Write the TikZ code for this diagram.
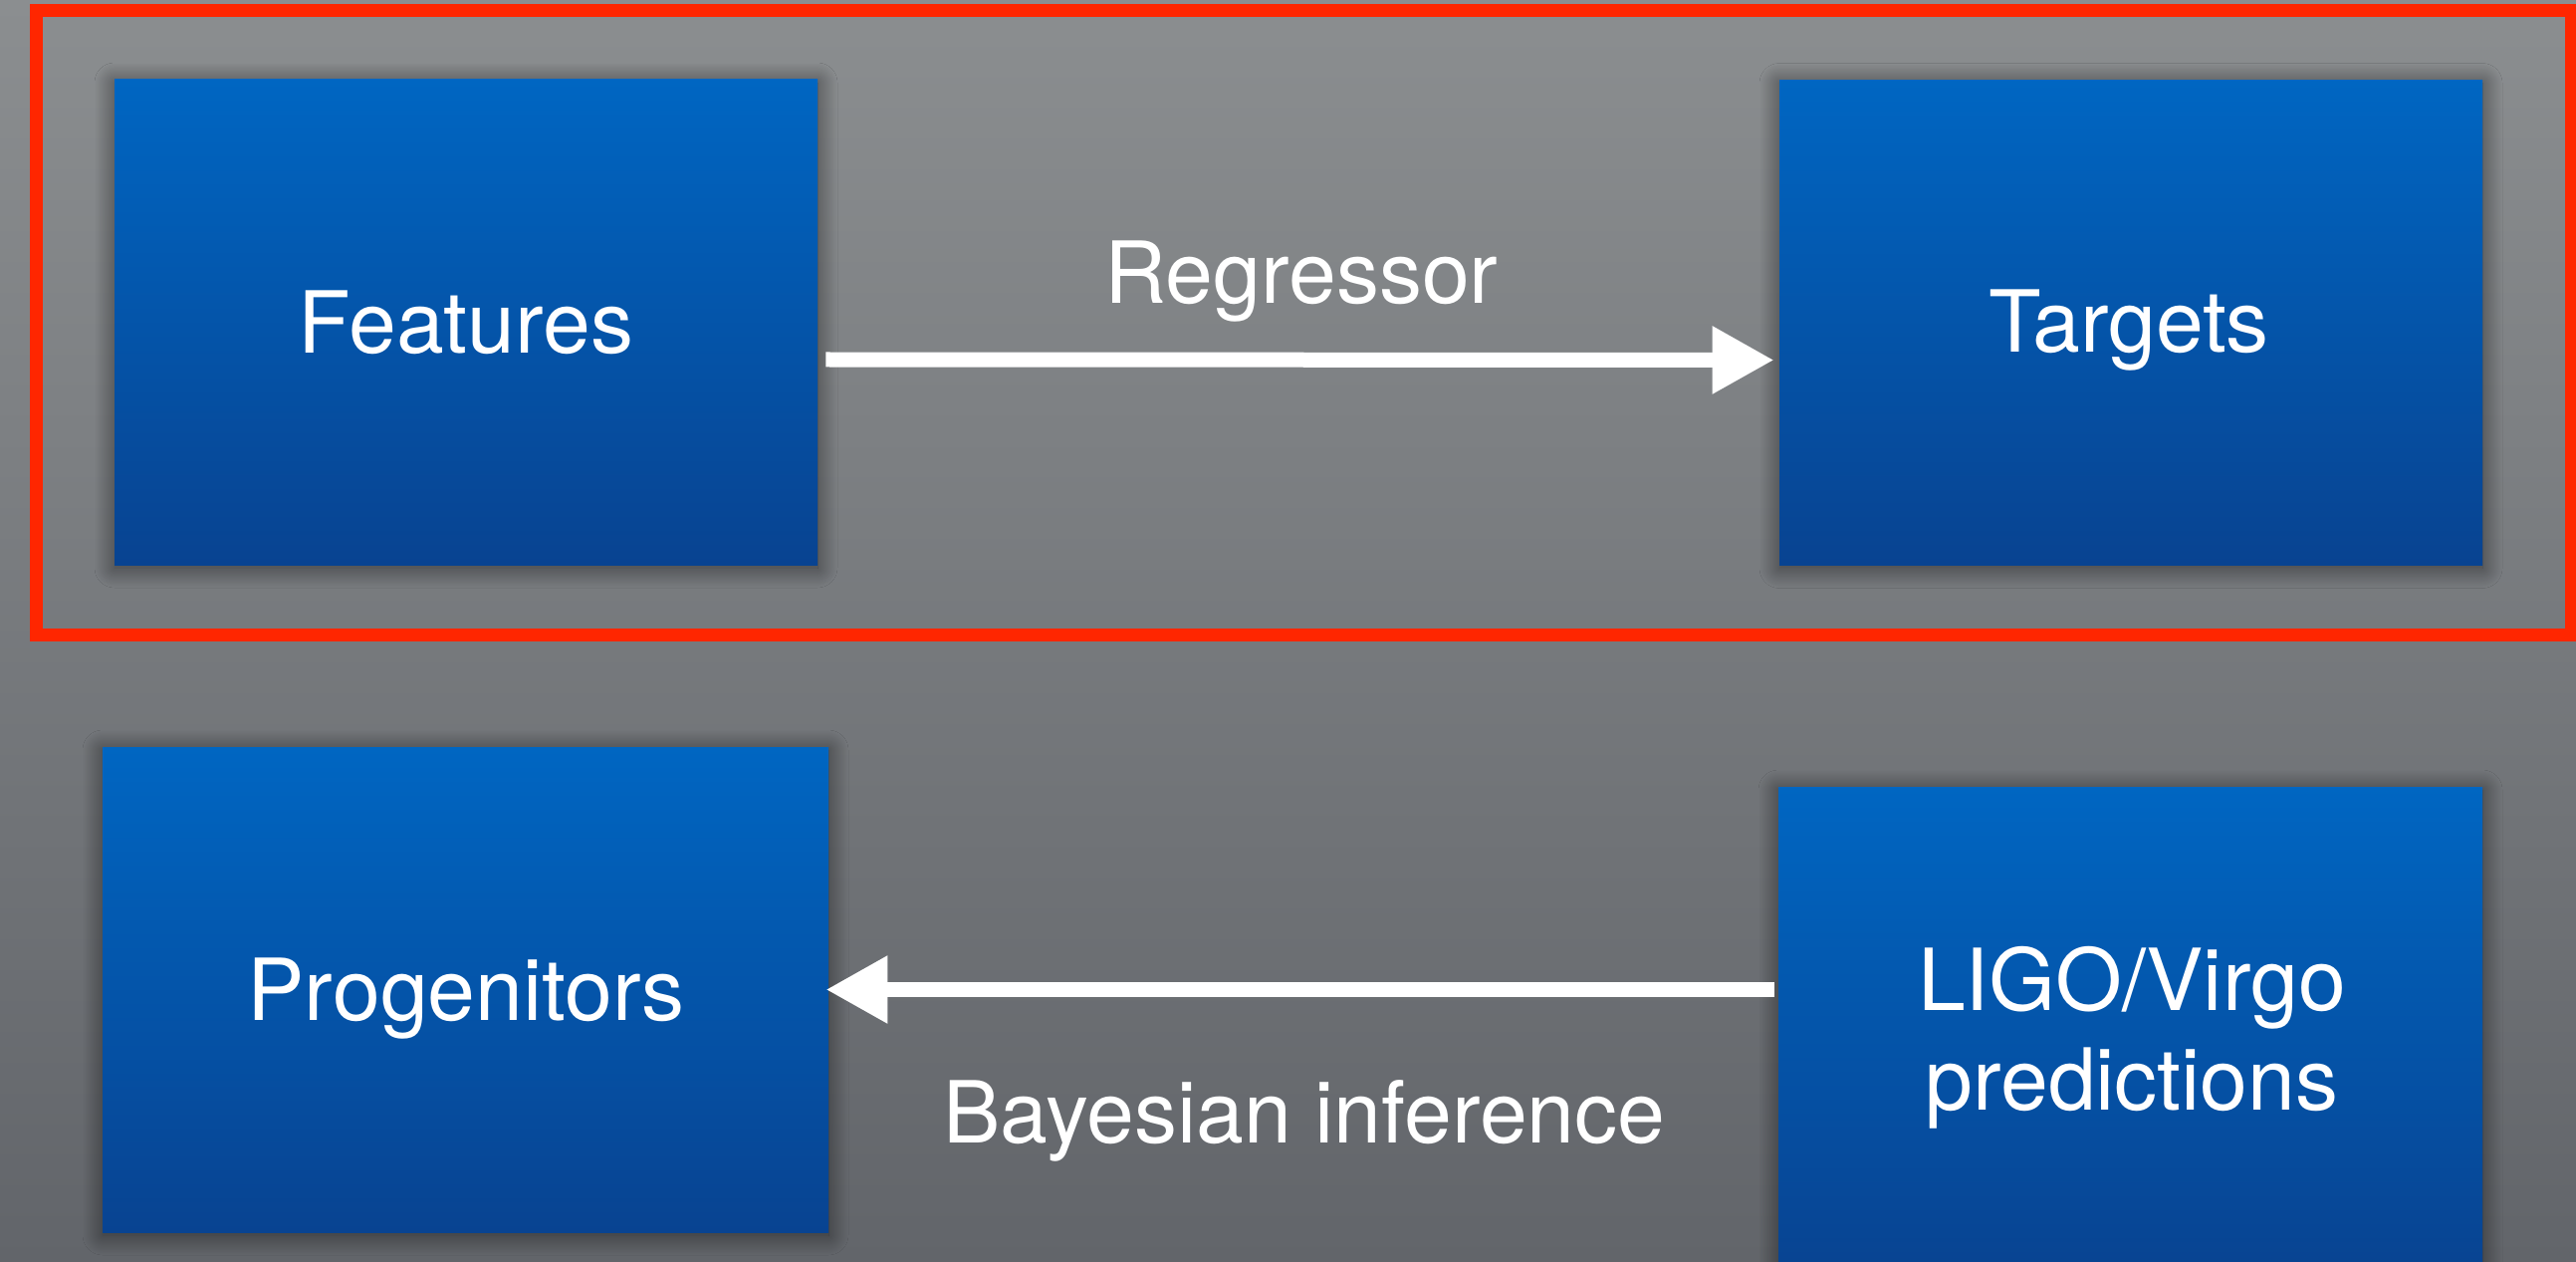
\documentclass[tikz,border=0pt]{standalone}
\usepackage{fontspec}
\setmainfont{TeX Gyre Heros}
\usetikzlibrary{arrows.meta,shadows.blur}
\definecolor{bgtop}{RGB}{139,142,144}
\definecolor{bgbot}{RGB}{98,101,106}
\definecolor{boxtop}{RGB}{0,102,194}
\definecolor{boxbot}{RGB}{8,67,145}
\definecolor{framered}{RGB}{255,38,0}
\begin{document}
\begin{tikzpicture}[x=0.5pt,y=-0.5pt,
  bluebox/.style={rectangle, inner sep=0pt, minimum height=243.5pt,
    top color=boxtop, bottom color=boxbot, draw=none,
    blur shadow={shadow xshift=0pt, shadow yshift=-1.5pt, shadow blur radius=10pt,
      shadow blur steps=25, shadow blur extra rounding=0pt, shadow opacity=55}},
  lbl/.style={text=white, font=\fontsize{43}{50}\selectfont, inner sep=0pt, anchor=base},
  flow/.style={draw=white, line width=7.5pt, -{Triangle[length=31pt,width=32pt]}}]
\useasboundingbox (0,0) rectangle (2587,1267);
\clip (0,0) rectangle (2587,1267);
\shade[top color=bgtop, bottom color=bgbot] (0,0) rectangle (2587,1267);
% boxes
\node[bluebox, minimum width=353pt] (feat) at (468,323.5) {};
\node[bluebox, minimum width=353pt] (targ) at (2140,324) {};
\node[bluebox, minimum width=364.5pt] (prog) at (467.5,993.5) {};
\node[bluebox, minimum width=353.5pt] (ligo) at (2139.5,1033.5) {};
% labels
\node[lbl] (tfeat) at (468,355) {Features};
\node[lbl] (ttarg) at (2138,353.5) {Targets};
\node[lbl] (tprog) at (468,1024) {Progenitors};
\node[lbl] (tligoa) at (2141,1014) {LIGO/Virgo};
\node[lbl] (tligob) at (2141,1114) {predictions};
\node[lbl] (treg) at (1307,305) {Regressor};
\node[lbl] (tbay) at (1310,1147) {Bayesian inference};
% connectors
\draw[flow] ([xshift=4pt,yshift=-18.75pt]feat.east) -- ([xshift=-2.5pt,yshift=-18.75pt]targ.west);
\draw[flow] ([xshift=-2pt,yshift=20pt]ligo.west) -- ([xshift=-1.5pt]prog.east);
% red frame
\draw[framered, line width=6.5pt] (36.5,11) rectangle (2582.5,637.5);
\end{tikzpicture}
\end{document}
